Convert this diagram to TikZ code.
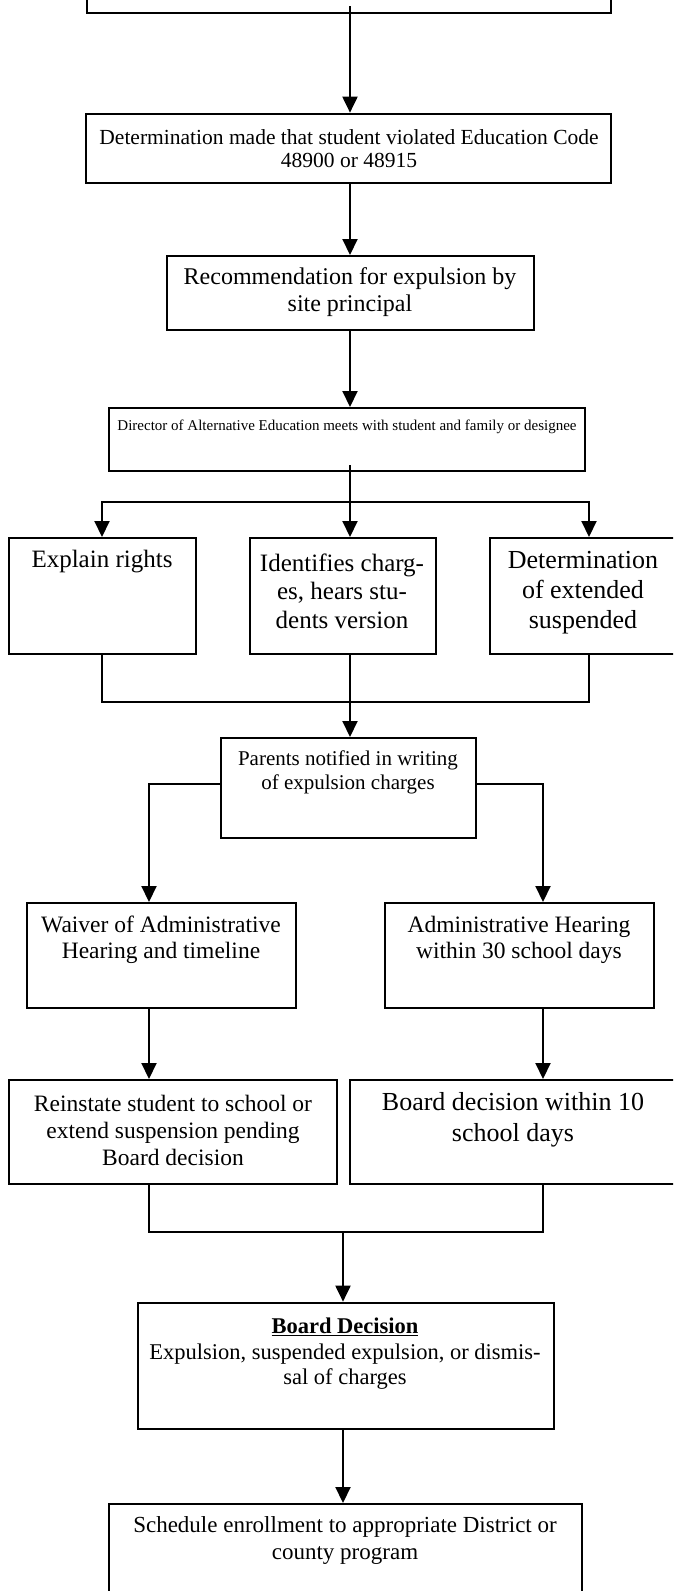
\documentclass[tikz,border=0pt]{standalone}
\usepackage{fontspec}
\setmainfont{Liberation Serif}
\usetikzlibrary{arrows.meta,calc}
\newcommand\setfs[2]{\fontsize{#1}{#2}\selectfont}
\begin{document}
\begin{tikzpicture}[x=1pt,y=-1pt,
  box/.style={draw, line width=2pt, inner sep=0pt},
  thickbox/.style={draw, line width=2.7pt, inner sep=0pt},
  txt/.style={align=center, inner sep=0pt},
  arr/.style={line width=2pt, -{Triangle[length=16pt,width=15pt]}},
  con/.style={line width=2pt},
  brk/.style={line width=1.4pt}]
\fill[white] (0,0) rectangle (673,1591);
\useasboundingbox (0,0) rectangle (673,1591);
\clip (0,0) rectangle (673,1591);
% boxes
\node[box, minimum width=524.3pt, minimum height=43.3pt] (b1) at (348.85,-8.35) {};
\node[thickbox, minimum width=525pt, minimum height=69pt] (b2) at (348.5,148.5) {};
\node[box, minimum width=367pt, minimum height=74pt] (b3) at (350.5,293) {};
\node[box, minimum width=476pt, minimum height=63pt] (b4) at (347,439.5) {};
\node[box, minimum width=186.6pt, minimum height=116pt] (e1) at (102.7,596) {};
\node[box, minimum width=186pt, minimum height=116pt] (e2) at (343,596) {};
\node[box, minimum width=210pt, minimum height=116pt] (e3) at (595,596) {};
\node[box, minimum width=255pt, minimum height=100pt] (p) at (348.5,788) {};
\node[box, minimum width=269pt, minimum height=105pt] (w) at (161.5,955.5) {};
\node[box, minimum width=269pt, minimum height=105pt] (a) at (519.5,955.5) {};
\node[box, minimum width=327.6pt, minimum height=104pt] (r) at (173.2,1132) {};
\node[box, minimum width=350pt, minimum height=104pt] (bd) at (525,1132) {};
\node[thickbox, minimum width=416pt, minimum height=126pt] (bdf) at (346,1366) {};
\node[box, minimum width=473pt, minimum height=136pt] (s) at (345.5,1572) {};
% texts
\node[txt, font=\setfs{21.5}{23}] (t2) at (349,148.5) {Determination made that student violated Education Code\\48900 or 48915};
\node[txt, font=\setfs{24}{27}] (t3) at (350,292.5) {Recommendation for expulsion by\\site principal};
\node[txt, font=\setfs{15}{17}] (t4) at (347,427) {Director of Alternative Education meets with student and family or designee};
\node[txt, font=\setfs{25}{29}] (te1) at (102,562) {Explain rights};
\node[txt, font=\setfs{25}{28.5}] (te2) at (342,591) {Identifies charg-\\es, hears stu-\\dents version};
\node[txt, font=\setfs{26}{30}] (te3) at (583,593) {Determination\\of extended\\suspended};
\node[txt, font=\setfs{21}{24}] (tp) at (348,772) {Parents notified in writing\\of expulsion charges};
\node[txt, font=\setfs{23.5}{26}] (tw) at (161,940) {Waiver of Administrative\\Hearing and timeline};
\node[txt, font=\setfs{23.5}{26}] (ta) at (519,940) {Administrative Hearing\\within 30 school days};
\node[txt, font=\setfs{23.5}{27}] (tr) at (173,1130) {Reinstate student to school or\\extend suspension pending\\Board decision};
\node[txt, font=\setfs{26}{31}] (tbd) at (513,1119.5) {Board decision within 10\\school days};
\node[txt, font=\setfs{22.5}{25.5}] (tbdf) at (345,1354) {\textbf{\underline{Board Decision}}\\Expulsion, suspended expulsion, or dismis-\\sal of charges};
\node[txt, font=\setfs{23}{27}] (ts) at (345,1540.5) {Schedule enrollment to appropriate District or\\county program};
% connector positions
\coordinate (cm) at (350,0);
\coordinate (s1) at (350,6);
\coordinate (s4) at (350,465);
\coordinate (br1) at (350,502);
\coordinate (xl) at (102,0);
\coordinate (xr) at (589,0);
\coordinate (j1) at (350,702);
\coordinate (pl) at (149,784);
\coordinate (pr) at (543,784);
\coordinate (j2) at (343,1232);
% connectors
\draw[arr] (s1) -- (b2.north -| cm);
\draw[arr] (b2.south -| cm) -- (b3.north -| cm);
\draw[arr] (b3.south -| cm) -- (b4.north -| cm);
\draw[con] (s4) -- (br1);
\draw[arr] (br1) -- (e2.north -| cm);
\draw[arr] (br1) -| (e1.north -| xl);
\draw[arr] (br1) -| (e3.north -| xr);
\draw[brk] (e1.south -| xl) |- (j1) -| (e3.south -| xr);
\draw[arr] (e2.south -| cm) -- (p.north -| cm);
\draw[arr] (p.west |- pl) -| (w.north -| pl);
\draw[arr] (p.east |- pr) -| (a.north -| pr);
\draw[arr] (w.south -| pl) -- (r.north -| pl);
\draw[arr] (a.south -| pr) -- (bd.north -| pr);
\draw[brk] (r.south -| pl) |- (j2) -| (bd.south -| pr);
\draw[arr] (j2) -- (bdf.north -| j2);
\draw[arr] (bdf.south -| j2) -- (s.north -| j2);
\end{tikzpicture}
\end{document}
